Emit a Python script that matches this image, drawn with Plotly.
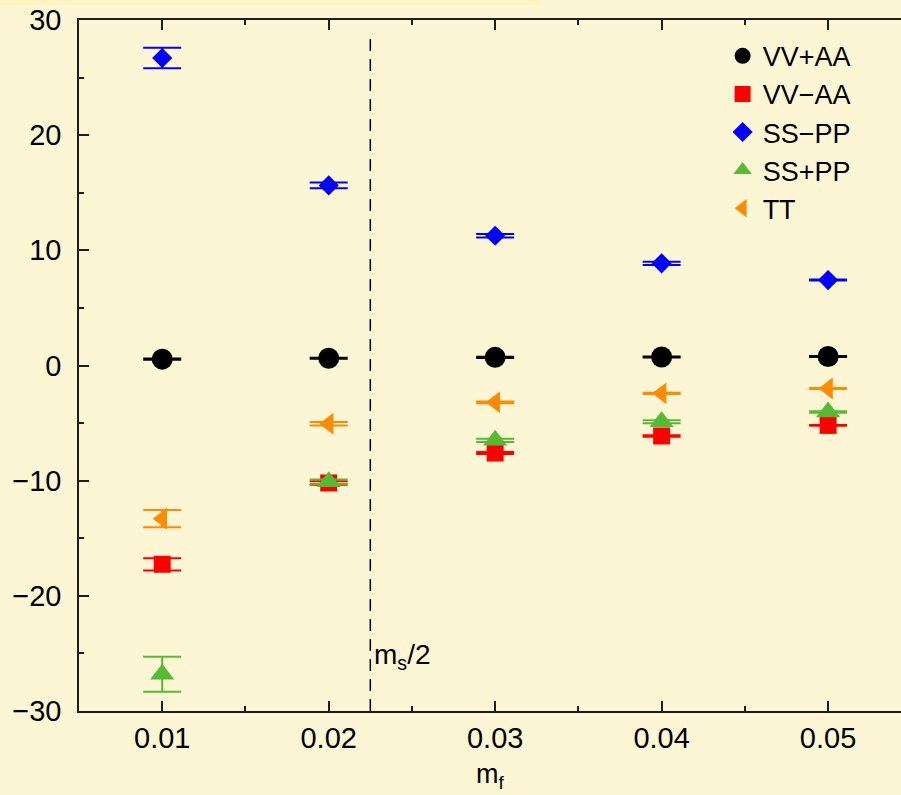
import plotly.graph_objects as go

# Quark mass values and correlator combinations
m_f = [0.01, 0.02, 0.03, 0.04, 0.05]

vv_plus_aa = [0.55, 0.63, 0.71, 0.74, 0.78]
vv_plus_aa_err = [0.05, 0.05, 0.05, 0.05, 0.05]

vv_minus_aa = [-17.26, -10.2, -7.6, -6.12, -5.2]
vv_minus_aa_err = [0.53, 0.15, 0.09, 0.06, 0.04]

ss_minus_pp = [26.7, 15.64, 11.27, 8.87, 7.42]
ss_minus_pp_err = [0.88, 0.26, 0.15, 0.14, 0.05]

ss_plus_pp = [-26.8, -10.1, -6.5, -4.89, -4.04]
ss_plus_pp_err = [1.52, 0.2, 0.14, 0.13, 0.06]

tt = [-13.3, -5.06, -3.2, -2.42, -2.0]
tt_err = [0.75, 0.16, 0.08, 0.05, 0.04]

ms_half = 0.0225

y_ticks = [-30, -20, -10, 0, 10, 20, 30]
x_ticks = [0.01, 0.02, 0.03, 0.04, 0.05]

BG = "rgb(253,246,212)"
FONT = "Liberation Sans, Arial, sans-serif"
FS = 29

series = [
    ("VV+AA", vv_plus_aa, vv_plus_aa_err, "black", "circle", 21),
    ("VV\u2212AA", vv_minus_aa, vv_minus_aa_err, "rgb(255,0,0)", "square", 17),
    ("SS\u2212PP", ss_minus_pp, ss_minus_pp_err, "rgb(0,0,255)", "diamond", 15.5),
    ("SS+PP", ss_plus_pp, ss_plus_pp_err, "rgb(85,187,51)", "triangle-up", 21),
    ("TT", tt, tt_err, "rgb(255,140,0)", "triangle-left", 19),
]

fig = go.Figure()
for name, vals, errs, color, symbol, size in series:
    fig.add_trace(go.Scatter(
        x=m_f, y=vals, name=name, mode="markers",
        marker=dict(color=color, symbol=symbol, size=size, line=dict(width=0)),
        error_y=dict(type="data", array=errs, visible=True,
                     color=color, thickness=2, width=19),
    ))

# vertical marker at half the strange mass
fig.add_shape(type="line", xref="x", yref="y", x0=ms_half, x1=ms_half,
              y0=-30, y1=28.8, line=dict(color="black", width=1.5, dash="12px,8px"))
fig.add_annotation(x=ms_half, y=-25.3, xref="x", yref="y",
                   text="m<sub>s</sub>/2", showarrow=False, xanchor="left",
                   xshift=2, font=dict(size=FS - 1, color="black", family=FONT))

# x-axis title placed below the tick labels
fig.add_annotation(x=0.5, y=-0.066, xref="paper", yref="paper",
                   text="m<sub>f</sub>", showarrow=False,
                   xanchor="center", yanchor="top",
                   font=dict(size=FS - 2, color="black", family=FONT))

# thin highlight strip along the top edge
fig.add_shape(type="rect", xref="paper", yref="paper",
              x0=-0.0961, x1=0.5608, y0=1.0217, y1=1.0289,
              fillcolor="rgb(255,243,190)", line=dict(width=0), layer="below")

axis_common = dict(
    showgrid=False, zeroline=False, showline=True,
    linecolor="rgb(30,30,30)", linewidth=1.5,
    ticks="inside", ticklen=10, tickwidth=1.5, tickcolor="rgb(30,30,30)",
    tickfont=dict(size=FS, color="black", family=FONT),
    minor=dict(ticks="inside", ticklen=5, tickwidth=1.5, tickcolor="rgb(30,30,30)"),
)

fig.update_xaxes(
    range=[0.005, 0.05438], tickvals=x_ticks,
    ticktext=["0.01", "0.02", "0.03", "0.04", "0.05"],
    minor_dtick=0.005, minor_tick0=0.005, mirror="ticks",
    **axis_common,
)
fig.update_yaxes(
    range=[-30, 30], tickvals=y_ticks, minor_dtick=5, minor_tick0=0,
    mirror=False, ticklabelstandoff=10,
    **axis_common,
)

fig.update_layout(
    width=901, height=795,
    margin=dict(l=79, r=0, t=20, b=84),
    paper_bgcolor=BG, plot_bgcolor=BG,
    font=dict(family=FONT, color="black", size=FS),
    showlegend=True,
    legend=dict(x=0.783, y=0.983, xanchor="left", yanchor="top",
                bgcolor="rgba(0,0,0,0)", borderwidth=0, tracegroupgap=0,
                font=dict(size=FS - 2, color="black", family=FONT)),
)

fig.write_html("out.html")
